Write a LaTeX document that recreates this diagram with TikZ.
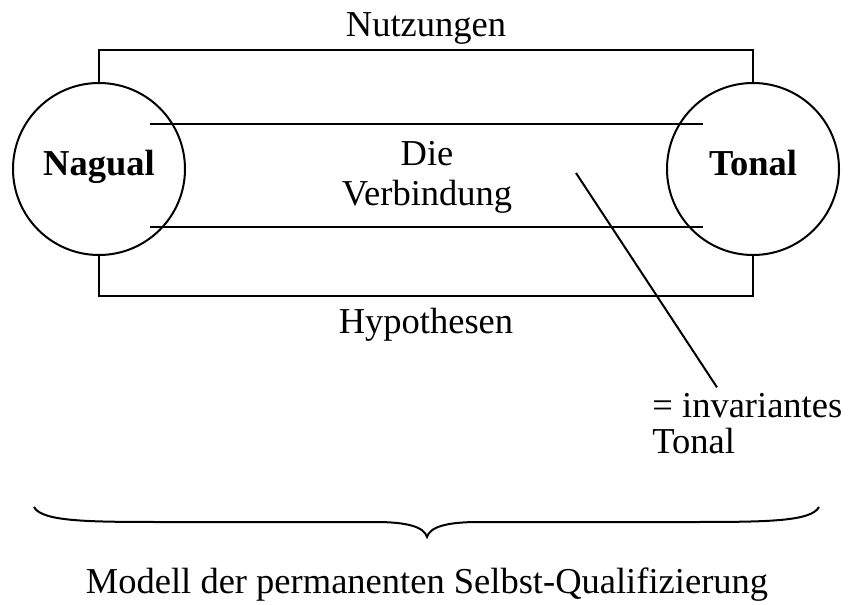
\documentclass[tikz,border=0pt]{standalone}
\usepackage{fontspec}
\setmainfont{Liberation Serif}
\usetikzlibrary{calc}
\tikzset{
    pnode/.style={circle,draw,line width=1pt,minimum size=86pt,inner sep=0pt,
        text height=0.7em,text depth=0.05em,
        font=\fontsize{18.25}{20}\selectfont\bfseries},
    tt/.style={fill=none,draw=none,text=black,inner sep=0pt,anchor=base},
    conn/.style={draw,line width=1pt},
}
\begin{document}
\begin{tikzpicture}[x=0.5pt,y=-0.5pt,font=\fontsize{18.25}{20}\selectfont]
\useasboundingbox (0,0) rectangle (852,605);
\node[pnode] (nag) at (99,169) {Nagual};
\node[pnode] (ton) at (753,169) {Tonal};
\node[tt, anchor=center, align=center] (verb) at (427,177) {Die\\Verbindung};
\node[tt, anchor=west, align=left] (inv) at (652,424) {= invariantes\\[-2pt]Tonal};
\node[tt] (mod) at (427,593) {Modell der permanenten Selbst-Qualifizierung};
\coordinate (vp) at (576,173);
% outer frame
\draw[conn] (nag.north) -- ++(0,-32) -| (ton.north) node[tt, pos=0.25, yshift=7pt] {Nutzungen};
\draw[conn] (nag.south) -- ++(0,40) -| (ton.south) node[tt, pos=0.25, yshift=-18.5pt] {Hypothesen};
% inner lines
\draw[conn] ([shift={(51,-45)}]nag.center) -- ([shift={(-50,-45)}]ton.center);
\draw[conn] ([shift={(51,58)}]nag.center) -- ([shift={(-50,58)}]ton.center);
\draw[conn] (vp) -- ([shift={(65,-6)}]inv.north west);
% brace
\draw[conn] (34,507) .. controls (42,522) and (90,522) .. (170,522) -- (375,522)
    .. controls (408,522) and (424,527) .. (427,537)
    .. controls (430,527) and (446,522) .. (479,522) -- (684,522)
    .. controls (764,522) and (811,522) .. (819,507);
\end{tikzpicture}
\end{document}
